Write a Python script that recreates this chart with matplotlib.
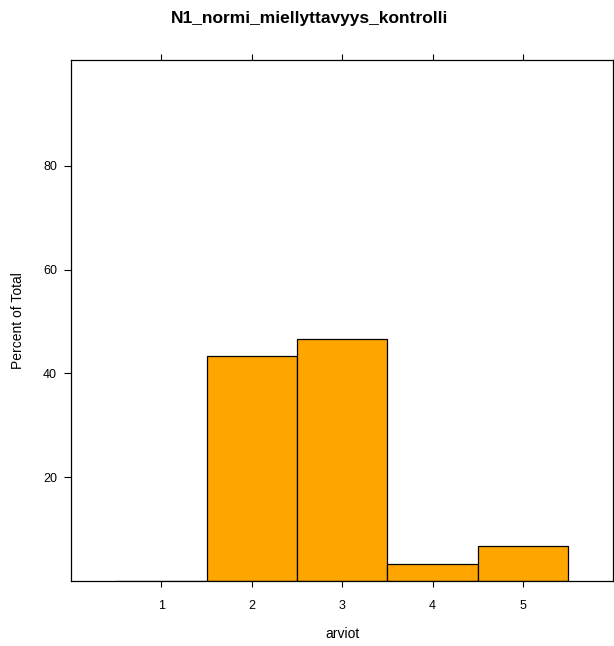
import matplotlib
matplotlib.use("Agg")
import matplotlib.pyplot as plt
import numpy as np

plt.rcParams['font.family'] = ['Liberation Sans', 'DejaVu Sans']

title = "N1_normi_miellyttavyys_kontrolli"
categories = [1, 2, 3, 4, 5]
percents = [0.0, 43.33, 46.67, 3.33, 6.67]
yticks = [20, 40, 60, 80]

fig = plt.figure(figsize=(6.14, 6.46), dpi=100)
ax = fig.add_axes([71/614, 1-581/646, (613.5-71)/614, (581-60)/646])

ax.bar(categories, percents, width=1.0, color='#FFA500', edgecolor='black',
       linewidth=0.9, align='center', zorder=2)

ax.set_xlim(0, 6)
ax.set_ylim(0, 100.4)
ax.set_xticks(categories)
ax.set_xticklabels([str(c) for c in categories])
ax.set_yticks(yticks)
ax.tick_params(axis='x', which='both', top=True, bottom=True, labeltop=False,
               direction='out', length=4.5, width=0.8, labelsize=9, pad=9, colors='black')
ax.tick_params(axis='y', which='both', left=True, right=False, direction='out',
               length=5, width=0.8, labelsize=9, pad=5)
for s in ax.spines.values():
    s.set_linewidth(0.9)

ax.set_xlabel("arviot", fontsize=10, labelpad=11)
ax.set_ylabel("Percent of Total", fontsize=10, labelpad=13)
fig.text(309.5/614, 1-18/646, title, ha='center', va='center', fontsize=12.5, fontweight='bold')

fig.savefig("out.png", dpi=100)
